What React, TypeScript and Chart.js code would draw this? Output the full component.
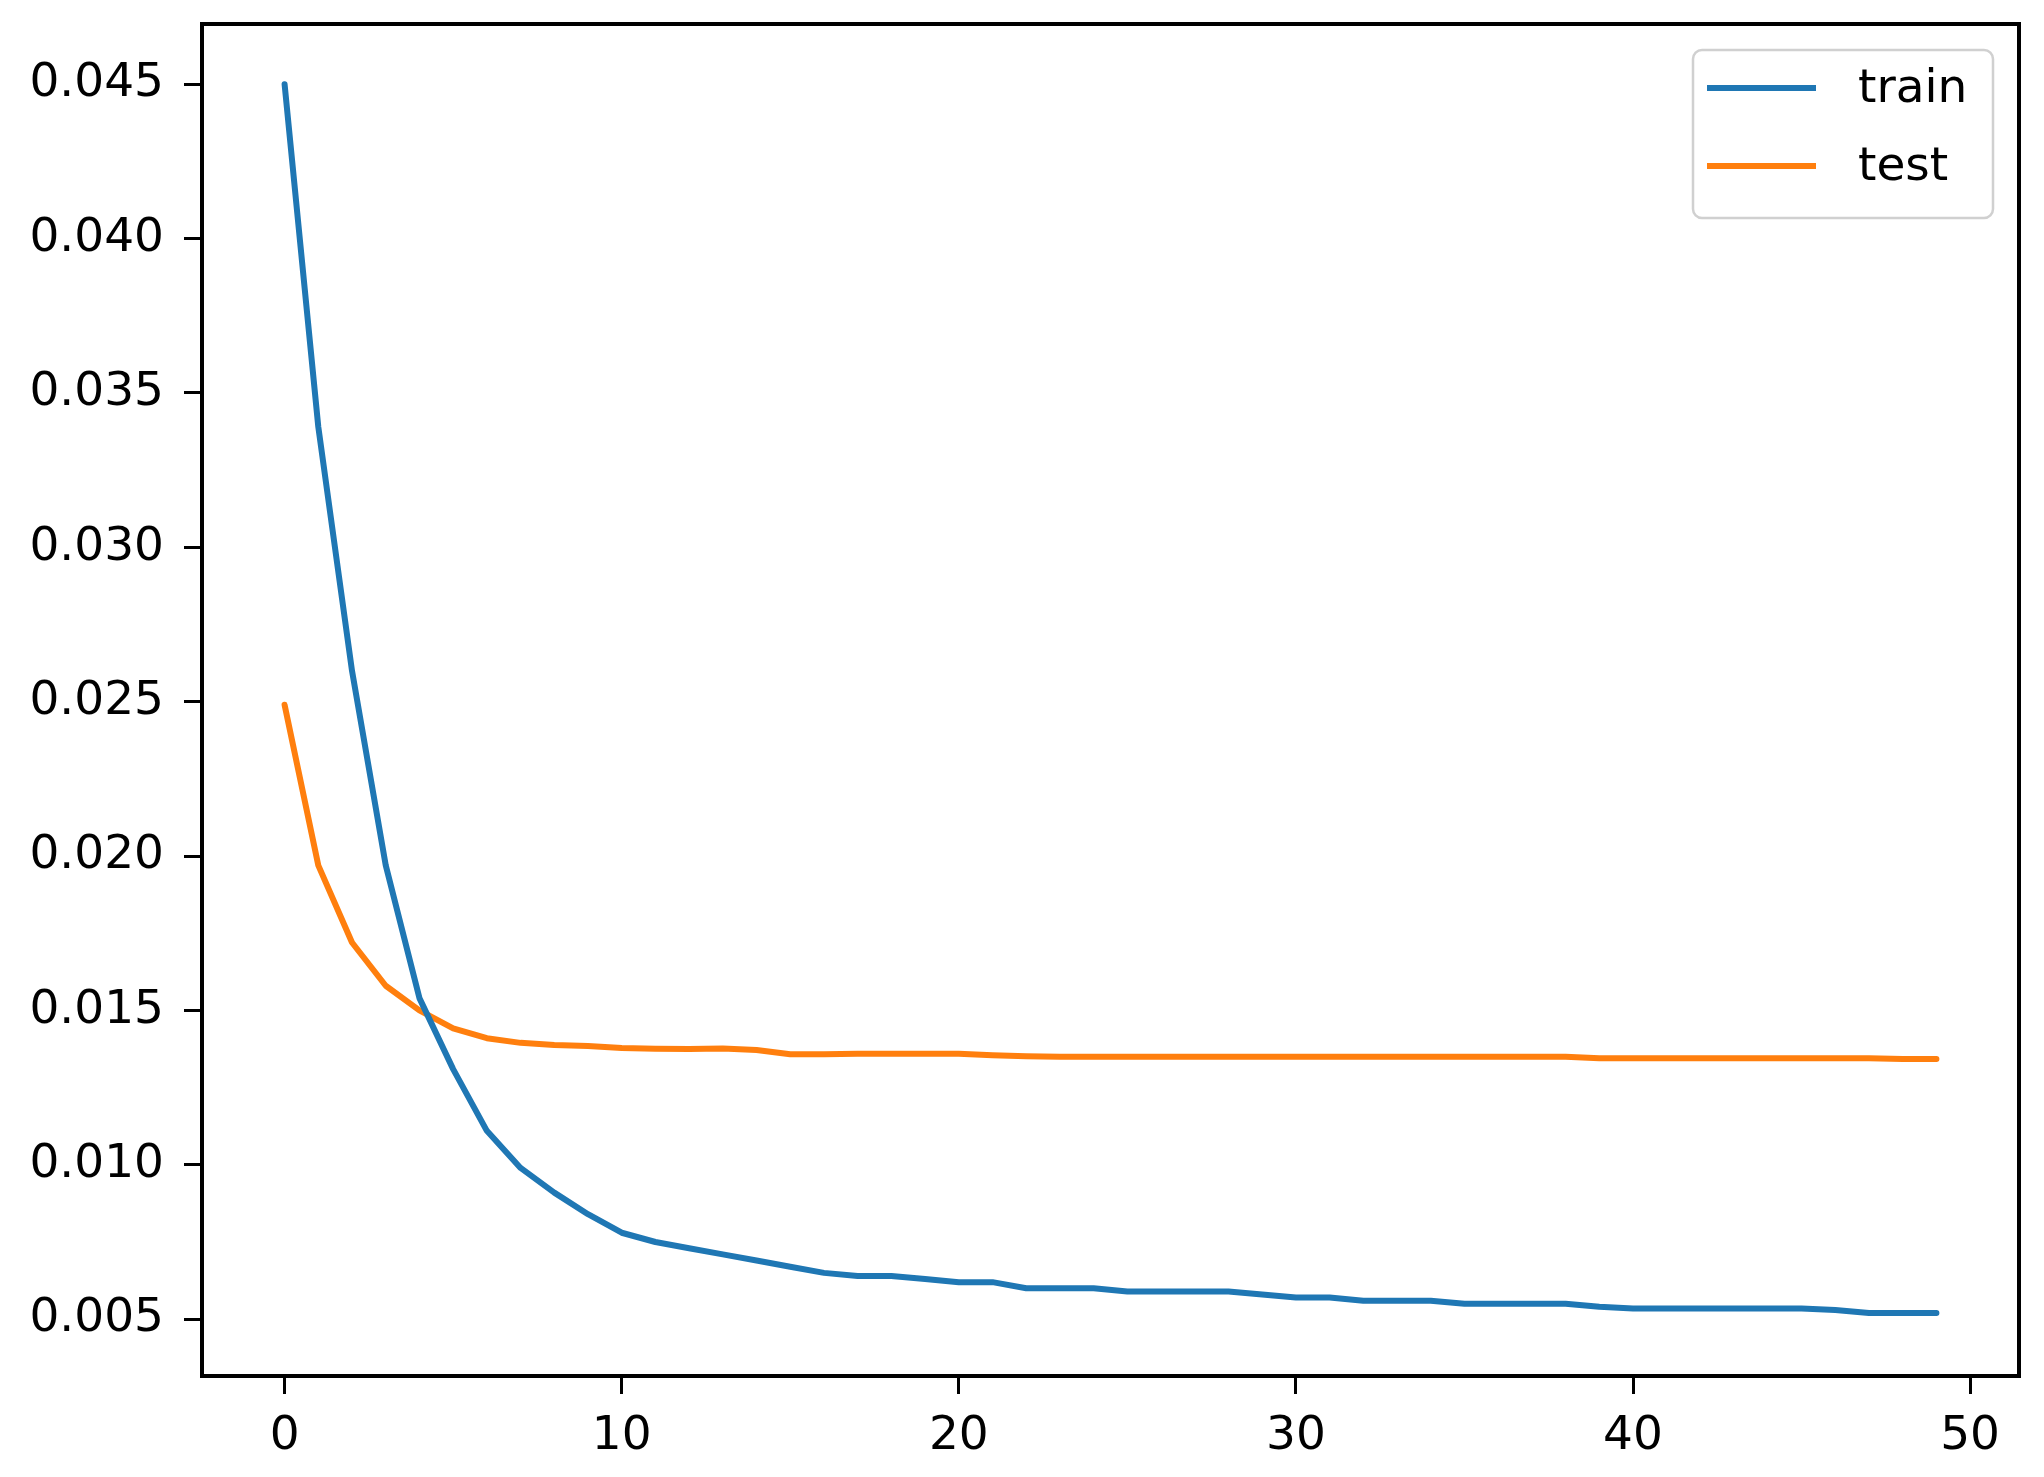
import React, { useEffect, useRef } from 'react';
import { Chart, registerables } from 'chart.js';

Chart.register(...registerables);

const epochs = [
  0, 1, 2, 3, 4, 5, 6, 7, 8, 9,
  10, 11, 12, 13, 14, 15, 16, 17, 18, 19,
  20, 21, 22, 23, 24, 25, 26, 27, 28, 29,
  30, 31, 32, 33, 34, 35, 36, 37, 38, 39,
  40, 41, 42, 43, 44, 45, 46, 47, 48, 49,
];

const trainLoss = [
  0.0450, 0.0339, 0.0260, 0.0197, 0.0154, 0.0131, 0.0111, 0.0099, 0.0091, 0.0084,
  0.0078, 0.0075, 0.0073, 0.0071, 0.0069, 0.0067, 0.0065, 0.0064, 0.0064, 0.0063,
  0.0062, 0.0062, 0.0060, 0.0060, 0.0060, 0.0059, 0.0059, 0.0059, 0.0059, 0.0058,
  0.0057, 0.0057, 0.0056, 0.0056, 0.0056, 0.0055, 0.0055, 0.0055, 0.0055, 0.0054,
  0.00535, 0.00535, 0.00535, 0.00535, 0.00535, 0.00535, 0.0053, 0.0052, 0.0052, 0.0052,
];

const testLoss = [
  0.0249, 0.0197, 0.0172, 0.0158, 0.0150, 0.01442, 0.0141, 0.01395, 0.01388, 0.01385,
  0.01378, 0.01376, 0.01375, 0.01377, 0.01372, 0.01358, 0.01358, 0.0136, 0.0136, 0.0136,
  0.0136, 0.01355, 0.01352, 0.0135, 0.0135, 0.0135, 0.0135, 0.0135, 0.0135, 0.0135,
  0.0135, 0.0135, 0.0135, 0.0135, 0.0135, 0.0135, 0.0135, 0.0135, 0.0135, 0.01345,
  0.01345, 0.01345, 0.01345, 0.01345, 0.01345, 0.01345, 0.01345, 0.01345, 0.01343, 0.01343,
];

const seriesLabels = ['train', 'test'];
const seriesColors = ['#1f77b4', '#ff7f0e'];
const xTicks = [0, 10, 20, 30, 40, 50];
const yTicks = [0.005, 0.01, 0.015, 0.02, 0.025, 0.03, 0.035, 0.04, 0.045];

const FONT = '"DejaVu Sans", sans-serif';
const FONT_SIZE = 47;

const framePlugin = {
  id: 'frameAndLegend',
  afterDatasetsDraw(chart: any) {
    const { ctx, chartArea } = chart;
    ctx.save();
    // axes frame (matplotlib spines)
    ctx.strokeStyle = '#000000';
    ctx.lineWidth = 4;
    ctx.strokeRect(chartArea.left, chartArea.top, chartArea.right - chartArea.left, chartArea.bottom - chartArea.top);

    // legend inside upper right
    const boxW = 300;
    const boxH = 168;
    const boxX = chartArea.right - 26 - boxW;
    const boxY = chartArea.top + 26;
    ctx.beginPath();
    ctx.roundRect(boxX, boxY, boxW, boxH, 9);
    ctx.fillStyle = 'rgba(255,255,255,0.8)';
    ctx.fill();
    ctx.strokeStyle = '#d0d0d0';
    ctx.lineWidth = 2.5;
    ctx.stroke();

    chart.data.datasets.forEach((ds: any, i: number) => {
      const y = boxY + 38 + i * 78;
      ctx.beginPath();
      ctx.strokeStyle = ds.borderColor;
      ctx.lineWidth = ds.borderWidth;
      ctx.lineCap = 'butt';
      ctx.moveTo(boxX + 14, y);
      ctx.lineTo(boxX + 123, y);
      ctx.stroke();
      ctx.fillStyle = '#000000';
      ctx.font = `${FONT_SIZE}px ${FONT}`;
      ctx.textAlign = 'left';
      ctx.textBaseline = 'middle';
      ctx.fillText(ds.label, boxX + 165, y + 2);
    });
    ctx.restore();
  },
};

export default function App() {
  const canvasRef = useRef<HTMLCanvasElement | null>(null);

  useEffect(() => {
    const canvas = canvasRef.current;
    if (!canvas) return;
    const datasets = [trainLoss, testLoss].map((values, i) => ({
      label: seriesLabels[i],
      data: values.map((v, j) => ({ x: epochs[j], y: v })),
      borderColor: seriesColors[i],
      backgroundColor: seriesColors[i],
      borderWidth: 6,
      pointRadius: 0,
      tension: 0,
      fill: false,
      borderJoinStyle: 'round' as const,
      borderCapStyle: 'round' as const,
    }));

    const chart = new Chart(canvas, {
      type: 'line',
      data: { datasets },
      options: {
        responsive: false,
        animation: false,
        layout: { padding: { top: 24, right: 25, left: 0, bottom: 0 } },
        plugins: {
          legend: { display: false },
          tooltip: { enabled: false },
        },
        scales: {
          x: {
            type: 'linear',
            min: -2.45,
            max: 51.45,
            afterBuildTicks: (axis: any) => {
              axis.ticks = xTicks.map((v) => ({ value: v }));
            },
            afterFit: (axis: any) => {
              axis.height = 101;
              axis.paddingLeft = 0;
              axis.paddingRight = 0;
            },
            border: { display: false },
            grid: {
              display: true,
              drawOnChartArea: false,
              drawTicks: true,
              tickLength: 18,
              tickWidth: 3,
              tickColor: '#000000',
            },
            ticks: {
              color: '#000000',
              font: { family: FONT, size: FONT_SIZE },
              padding: 15,
              maxRotation: 0,
              callback: (v: any) => String(v),
            },
          },
          y: {
            type: 'linear',
            min: 0.00316,
            max: 0.04695,
            afterBuildTicks: (axis: any) => {
              axis.ticks = yTicks.map((v) => ({ value: v }));
            },
            afterFit: (axis: any) => {
              axis.width = 202;
              axis.paddingTop = 0;
              axis.paddingBottom = 0;
            },
            border: { display: false },
            grid: {
              display: true,
              drawOnChartArea: false,
              drawTicks: true,
              tickLength: 18,
              tickWidth: 3,
              tickColor: '#000000',
            },
            ticks: {
              color: '#000000',
              font: { family: FONT, size: FONT_SIZE },
              padding: 20,
              callback: (v: any) => Number(v).toFixed(3),
            },
          },
        },
      },
      plugins: [framePlugin],
    });
    return () => chart.destroy();
  }, []);

  return (
    <div style={{ position: 'absolute', left: 0, top: 0, width: 2044, height: 1477, background: '#ffffff' }}>
      <canvas ref={canvasRef} width={2044} height={1477} style={{ display: 'block' }} />
    </div>
  );
}
